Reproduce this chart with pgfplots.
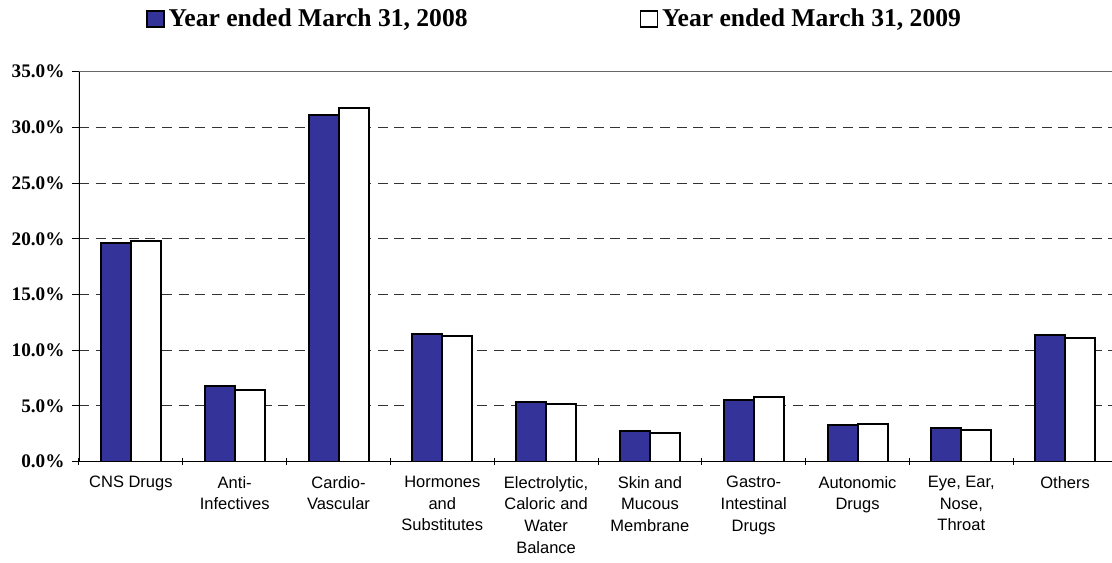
\documentclass[border=0pt]{standalone}
\usepackage{fontspec}
\setmainfont{Liberation Serif}
\newfontfamily\arial{Liberation Sans}
\usepackage{pgfplots}
\pgfplotsset{compat=1.18}
\definecolor{barblue}{RGB}{51,51,153}
\begin{document}
\begin{tikzpicture}
\useasboundingbox (0,0) rectangle (556pt,281pt);
\begin{axis}[
  at={(39.5pt,50.15pt)}, anchor=south west,
  scale only axis, width=519pt, height=195pt,
  xmin=0, xmax=10, ymin=0, ymax=35,
  ybar=0pt, bar width=15pt,
  axis line style={draw=none},
  tick pos=left,
  tick align=outside, major tick length=3.7pt,
  tick style={black, line width=0.5pt},
  every major x tick/.append style={yshift=2pt},
  xtick={0,...,10},
  x tick label as interval,
  xticklabels={CNS Drugs,{Anti-\\Infectives},{Cardio-\\Vascular},{Hormones\\and\\Substitutes},{Electrolytic,\\Caloric and\\Water\\Balance},{Skin and\\Mucous\\Membrane},{Gastro-\\Intestinal\\Drugs},{Autonomic\\Drugs},{Eye, Ear,\\Nose,\\Throat},Others},
  xticklabel style={font=\arial\fontsize{8.25}{10.85}\selectfont, align=center, anchor=north},
  ytick={0,5,...,35},
  yticklabels={0.0\%,5.0\%,10.0\%,15.0\%,20.0\%,25.0\%,30.0\%,35.0\%},
  yticklabel style={font=\bfseries\fontsize{9.6}{10}\selectfont},
  ymajorgrids,
  major grid style={black!80, line width=0.5pt, dash pattern=on 5pt off 3.3pt},
  legend columns=2,
  legend style={at={(0.0645,1.135)}, anchor=west, draw=none, fill=none,
    font=\bfseries\fontsize{12.8}{14}\selectfont, inner sep=0pt, cells={anchor=west}},
]
\addplot[fill=barblue, draw=black, line width=1pt,
  legend image code/.code={\draw[fill=barblue, draw=black, line width=0.7pt] (0pt,-4pt) rectangle (8.5pt,4pt);}]
  coordinates {(0.5,19.6) (1.5,6.75) (2.5,31.1) (3.5,11.45) (4.5,5.4) (5.5,2.75) (6.5,5.55) (7.5,3.3) (8.5,3.0) (9.5,11.4)};
\addlegendentry{Year ended March 31, 2008\hspace*{84pt}}
\addplot[fill=white, draw=black, line width=1pt,
  legend image code/.code={\draw[fill=white, draw=black, line width=0.7pt] (0pt,-4pt) rectangle (8.5pt,4pt);}]
  coordinates {(0.5,19.8) (1.5,6.45) (2.5,31.7) (3.5,11.3) (4.5,5.2) (5.5,2.6) (6.5,5.85) (7.5,3.4) (8.5,2.85) (9.5,11.1)};
\addlegendentry{Year ended March 31, 2009}
\draw[black!60, line width=0.6pt] (rel axis cs:0,1) -- (rel axis cs:1,1);
\draw[black, line width=0.6pt] (rel axis cs:0,1) -- (rel axis cs:0,0) -- (rel axis cs:1,0);
\end{axis}
\end{tikzpicture}
\end{document}
